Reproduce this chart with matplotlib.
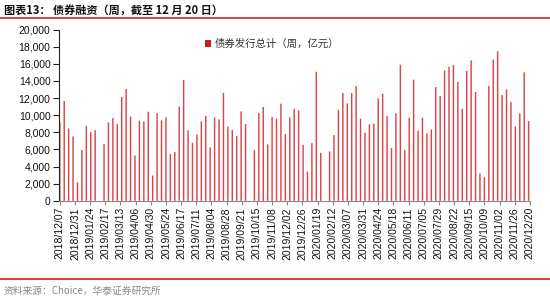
import numpy as np
import pandas as pd
import matplotlib
matplotlib.use('Agg')
import matplotlib.pyplot as plt
import matplotlib.dates as mdates
from matplotlib.patches import Patch
from matplotlib.lines import Line2D

plt.rcParams['font.family'] = ['Liberation Sans', 'Noto Sans CJK SC', 'DejaVu Sans']

# ---- 数据：每周债券发行总计（亿元），None = 当周无数据（节假日） ----
START_WEEK = '2018-12-07'
issuance = [
    9160, 11660, 8460, 7520, 2140, 5930, 8770, 8030, 8270, None,
    6630, 9160, 9670, 8970, 12120, 13060, 9860, 5300, 9360, 9280,
    10410, 2960, 10250, 9400, 9750, 5460, 5690, 10990, 14110, 8230,
    6780, 7760, 9280, 9940, 6240, 9750, 9510, 12590, 8690, 8270,
    7560, 10450, 8970, None, 5930, 10250, 10960, 6590, 9790, 9590,
    11350, 7800, 9750, 10760, 10570, 6550, 3430, 6740, 15090, 5610,
    None, 5770, 7680, 10600, 12590, 11380, 12590, 13410, 9590, 7950,
    8930, 9010, 11970, 12510, 9900, 6160, 10210, 15910, 5960, 9710,
    14150, 8190, 9710, 7880, 8340, 13290, 12240, 15240, 15670, 15870,
    13880, 10760, 15170, 16410, 12710, 3200, 2770, 13410, 16490, 17470,
    12360, 13020, 11540, 8690, 10210, 15010, 9320,
]

tick_labels = [
    '2018/12/07', '2018/12/31', '2019/01/24', '2019/02/17', '2019/03/13',
    '2019/04/06', '2019/04/30', '2019/05/24', '2019/06/17', '2019/07/11',
    '2019/08/04', '2019/08/28', '2019/09/21', '2019/10/15', '2019/11/08',
    '2019/12/02', '2019/12/26', '2020/01/19', '2020/02/12', '2020/03/07',
    '2020/03/31', '2020/04/24', '2020/05/18', '2020/06/11', '2020/07/05',
    '2020/07/29', '2020/08/22', '2020/09/15', '2020/10/09', '2020/11/02',
    '2020/11/26', '2020/12/20',
]

weeks = pd.date_range(START_WEEK, periods=len(issuance), freq='7D')
vals = np.array([np.nan if v is None else v for v in issuance], dtype=float)
ok = ~np.isnan(vals)
ticks = pd.to_datetime(tick_labels, format='%Y/%m/%d')

BAR_RED = '#d9474a'
LINE_RED = '#e2403a'
CJK = ['Noto Sans CJK SC', 'DejaVu Sans']

fig = plt.figure(figsize=(5.5, 3.02), dpi=100)
ax = fig.add_axes([0.107, 0.335, 0.857, 0.567])

bars = ax.bar(mdates.date2num(weeks[ok]), vals[ok], width=2.3, color=BAR_RED,
              linewidth=0)
# 细柱不做像素对齐，避免宽窄不一
for b in bars:
    b.set_snap(False)

ax.set_ylim(0, 20000)
ax.set_yticks(np.arange(0, 20001, 2000))
ax.yaxis.set_major_formatter(matplotlib.ticker.FuncFormatter(lambda v, p: f'{int(v):,}'))
ax.set_xlim(mdates.date2num(ticks[0]) - 1.5, mdates.date2num(ticks[-1]) + 0.5)
ax.set_xticks(mdates.date2num(ticks))
ax.set_xticklabels(tick_labels, rotation=90)

for s in ['top', 'right']:
    ax.spines[s].set_visible(False)
ax.spines['left'].set_color('#222222')
ax.spines['left'].set_linewidth(0.8)
ax.spines['bottom'].set_color('#888888')
ax.spines['bottom'].set_linewidth(0.8)
ax.tick_params(axis='y', length=4, width=0.8, color='#222222', labelsize=7.5,
               labelcolor='#111111', pad=2)
ax.tick_params(axis='x', length=3, width=0.8, color='#888888', labelsize=7.5,
               labelcolor='#111111', pad=1.5)

# 图例
leg = ax.legend(handles=[Patch(facecolor='#c0201f', edgecolor='none')],
                labels=['债券发行总计（周，亿元）'],
                loc='upper left', bbox_to_anchor=(0.29, 1.0), frameon=False,
                handlelength=0.6, handleheight=0.6, handletextpad=0.3,
                prop={'family': CJK, 'size': 7.5})
for t in leg.get_texts():
    t.set_color('#333333')

# 标题与来源
fig.text(0.008, 0.966, '图表13： 债券融资（周，截至 12 月 20 日）', family=CJK,
         fontsize=8, fontweight='bold', color='#111111', va='center', ha='left')
fig.add_artist(Line2D([0, 1], [0.94, 0.94], color=LINE_RED, linewidth=1.4,
                      transform=fig.transFigure))
fig.add_artist(Line2D([0, 1], [0.075, 0.075], color=LINE_RED, linewidth=1.4,
                      transform=fig.transFigure))
fig.text(0.006, 0.038, '资料来源：Choice，华泰证券研究所', family=CJK,
         fontsize=7, color='#888888', va='center', ha='left')

fig.savefig('out.png', dpi=100)
